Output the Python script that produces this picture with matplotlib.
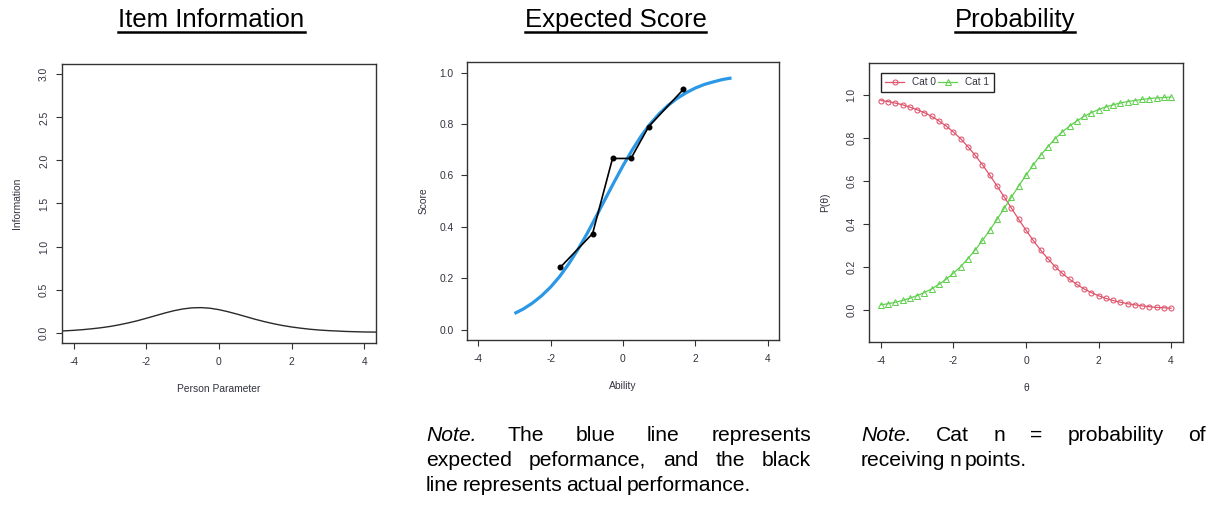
import matplotlib
matplotlib.use("Agg")
import matplotlib.pyplot as plt
from matplotlib.lines import Line2D

plt.rcParams['font.family'] = ['Liberation Sans', 'DejaVu Sans']

# ---------------- data ----------------
info_theta = [-4.5, -4.25, -4.0, -3.75, -3.5, -3.25, -3.0, -2.75, -2.5, -2.25, -2.0, -1.75,
              -1.5, -1.25, -1.0, -0.75, -0.5, -0.25, 0.0, 0.25, 0.5, 0.75, 1.0, 1.25, 1.5,
              1.75, 2.0, 2.25, 2.5, 2.75, 3.0, 3.25, 3.5, 3.75, 4.0, 4.25, 4.5]
info_values = [0.016, 0.021, 0.027, 0.035, 0.045, 0.057, 0.072, 0.091, 0.113, 0.138, 0.167,
               0.197, 0.227, 0.254, 0.275, 0.288, 0.291, 0.284, 0.267, 0.243, 0.215, 0.185,
               0.155, 0.128, 0.104, 0.083, 0.066, 0.052, 0.040, 0.031, 0.024, 0.019, 0.014,
               0.011, 0.008, 0.007, 0.005]

exp_theta = [-3.0, -2.75, -2.5, -2.25, -2.0, -1.75, -1.5, -1.25, -1.0, -0.75, -0.5, -0.25,
             0.0, 0.25, 0.5, 0.75, 1.0, 1.25, 1.5, 1.75, 2.0, 2.25, 2.5, 2.75, 3.0]
exp_score = [0.063, 0.081, 0.104, 0.132, 0.166, 0.207, 0.256, 0.311, 0.372, 0.438, 0.506,
             0.573, 0.638, 0.698, 0.753, 0.800, 0.840, 0.873, 0.900, 0.922, 0.940, 0.954,
             0.964, 0.973, 0.979]

obs_theta = [-1.73, -0.84, -0.29, 0.22, 0.71, 1.67]
obs_score = [0.243, 0.374, 0.666, 0.666, 0.790, 0.935]

prob_theta = [-4.0, -3.8, -3.6, -3.4, -3.2, -3.0, -2.8, -2.6, -2.4, -2.2, -2.0, -1.8, -1.6,
              -1.4, -1.2, -1.0, -0.8, -0.6, -0.4, -0.2, 0.0, 0.2, 0.4, 0.6, 0.8, 1.0, 1.2,
              1.4, 1.6, 1.8, 2.0, 2.2, 2.4, 2.6, 2.8, 3.0, 3.2, 3.4, 3.6, 3.8, 4.0]
cat0 = [0.975, 0.970, 0.963, 0.955, 0.944, 0.932, 0.918, 0.901, 0.880, 0.856, 0.828, 0.797,
        0.760, 0.720, 0.676, 0.628, 0.578, 0.526, 0.474, 0.422, 0.372, 0.324, 0.280, 0.240,
        0.203, 0.171, 0.144, 0.120, 0.099, 0.082, 0.067, 0.055, 0.045, 0.037, 0.030, 0.025,
        0.020, 0.016, 0.013, 0.011, 0.009]
cat1 = [0.025, 0.030, 0.037, 0.045, 0.056, 0.068, 0.082, 0.099, 0.120, 0.144, 0.172, 0.203,
        0.240, 0.280, 0.324, 0.372, 0.422, 0.474, 0.526, 0.578, 0.628, 0.676, 0.720, 0.760,
        0.797, 0.829, 0.856, 0.880, 0.901, 0.918, 0.933, 0.945, 0.955, 0.963, 0.970, 0.975,
        0.980, 0.984, 0.987, 0.989, 0.991]

titles = ["Item Information", "Expected Score", "Probability"]
title_centers = [211.5, 615.5, 1015.0]
x_ticks = [-4, -2, 0, 2, 4]
info_yticks = [0.0, 0.5, 1.0, 1.5, 2.0, 2.5, 3.0]
score_yticks = [0.0, 0.2, 0.4, 0.6, 0.8, 1.0]
prob_yticks = [0.0, 0.2, 0.4, 0.6, 0.8, 1.0]

# ---------------- figure ----------------
W, H = 1213, 507
fig = plt.figure(figsize=(W / 100, H / 100), dpi=100)


def ax_rect(left, top, right, bottom):
    return [left / W, (H - bottom) / H, (right - left) / W, (bottom - top) / H]


TICK_FS = 7.4
LAB_FS = 7.4
FRAME = '#333333'
TXT = '#333340'


def style(ax, rotate_y=True):
    for s in ax.spines.values():
        s.set_color(FRAME)
        s.set_linewidth(1.0)
    ax.tick_params(axis='both', length=4.3, width=0.8, color=FRAME,
                   labelsize=TICK_FS, labelcolor=TXT, pad=5)
    ax.tick_params(axis='x', pad=6.0)
    if rotate_y:
        for lab in ax.get_yticklabels():
            lab.set_rotation(90)
            lab.set_va('center')


xl = (-4.32, 4.32)

# Panel 1: Item Information
ax1 = fig.add_axes(ax_rect(62, 64, 376, 343))
ax1.plot(info_theta, info_values, color='#2a2a2a', lw=1.0)
ax1.set_xlim(*xl)
ax1.set_ylim(-0.12, 3.12)
ax1.set_xticks(x_ticks)
ax1.set_yticks(info_yticks)
ax1.set_xticklabels([str(t) for t in x_ticks])
ax1.set_yticklabels([f"{t:.1f}" for t in info_yticks])
style(ax1)
ax1.set_xlabel("Person Parameter", fontsize=LAB_FS, color=TXT, labelpad=12)
ax1.set_ylabel("Information", fontsize=LAB_FS, color=TXT, labelpad=12)

# Panel 2: Expected Score
ax2 = fig.add_axes(ax_rect(466.7, 62.3, 779.3, 340))
ax2.plot(exp_theta, exp_score, color='#2A98E6', lw=2.3, solid_capstyle='butt')
ax2.plot(obs_theta, obs_score, color='black', lw=1.2, marker='o', markersize=3.3)
ax2.set_xlim(*xl)
ax2.set_ylim(-0.04, 1.04)
ax2.set_xticks(x_ticks)
ax2.set_yticks(score_yticks)
ax2.set_xticklabels([str(t) for t in x_ticks])
ax2.set_yticklabels([f"{t:.1f}" for t in score_yticks])
style(ax2, rotate_y=False)
ax2.set_xlabel("Ability", fontsize=LAB_FS, color=TXT, labelpad=12)
ax2.set_ylabel("Score", fontsize=LAB_FS, color=TXT, labelpad=8)

# Panel 3: Probability
ax3 = fig.add_axes(ax_rect(869.3, 63.3, 1182.7, 342))
ax3.plot(prob_theta, cat0, color='#DF536B', lw=0.9, marker='o', markersize=3.6,
         markerfacecolor='none', markeredgewidth=0.75, label='Cat 0')
ax3.plot(prob_theta, cat1, color='#61D04F', lw=0.9, marker='^', markersize=4.8,
         markerfacecolor='none', markeredgewidth=0.75, label='Cat 1')
ax3.set_xlim(*xl)
ax3.set_ylim(-0.148, 1.148)
ax3.set_xticks(x_ticks)
ax3.set_yticks(prob_yticks)
ax3.set_xticklabels([str(t) for t in x_ticks])
ax3.set_yticklabels([f"{t:.1f}" for t in prob_yticks])
style(ax3)
ax3.set_xlabel("θ", fontsize=LAB_FS, color=TXT, labelpad=12)
ax3.set_ylabel("P(θ)", fontsize=LAB_FS, color=TXT, labelpad=12)
leg = ax3.legend(loc='upper left', bbox_to_anchor=(0.0364, 0.966), borderaxespad=0,
                 ncol=2, fontsize=7.2, handlelength=1.9, handletextpad=0.8,
                 columnspacing=0.2, borderpad=0.45, fancybox=False, framealpha=1,
                 edgecolor='#222222')
leg.get_frame().set_linewidth(1.0)
for t in leg.get_texts():
    t.set_color(TXT)

# ---------------- titles (underlined) ----------------
fig.canvas.draw()
renderer = fig.canvas.get_renderer()
TITLE_FS = 18.5
for t, cx in zip(titles, title_centers):
    txt = fig.text(cx / W, (H - 27.3) / H, t, fontsize=TITLE_FS, ha='center',
                   va='baseline', color='black')
    bb = txt.get_window_extent(renderer=renderer)
    fig.add_artist(Line2D([bb.x0 / W, bb.x1 / W], [(H - 32.0) / H] * 2,
                          transform=fig.transFigure, color='black', lw=1.8))


# ---------------- justified notes ----------------
NOTE_FS = 15.2


def measure(s, style_='normal'):
    t = fig.text(0, 0, s, fontsize=NOTE_FS, style=style_)
    w = t.get_window_extent(renderer=renderer).width
    t.remove()
    return w


def put_line(words, x0, x1, y, justify):
    widths = [measure(w, st) for w, st in words]
    if justify and len(words) > 1:
        gap = (x1 - x0 - sum(widths)) / (len(words) - 1)
    else:
        gap = 0.65 * (measure('a b') - measure('a') - measure('b'))
    x = x0
    for (w, st), wd in zip(words, widths):
        fig.text(x / W, (H - y) / H, w, fontsize=NOTE_FS, style=st,
                 ha='left', va='baseline', color='black')
        x += wd + gap


def words_of(s, first_italic=False):
    out = []
    for i, w in enumerate(s.split()):
        out.append((w, 'italic' if (first_italic and i == 0) else 'normal'))
    return out


note1 = ["Note. The blue line represents",
         "expected peformance, and the black",
         "line represents actual performance."]
note2 = ["Note. Cat n = probability of",
         "receiving n points."]

base_y = [441.0, 466.0, 491.0]
for i, line in enumerate(note1):
    put_line(words_of(line, first_italic=(i == 0)), 426, 811, base_y[i], i < len(note1) - 1)
for i, line in enumerate(note2):
    put_line(words_of(line, first_italic=(i == 0)), 861, 1206, base_y[i], i < len(note2) - 1)

fig.savefig("out.png", dpi=100, facecolor='white')
